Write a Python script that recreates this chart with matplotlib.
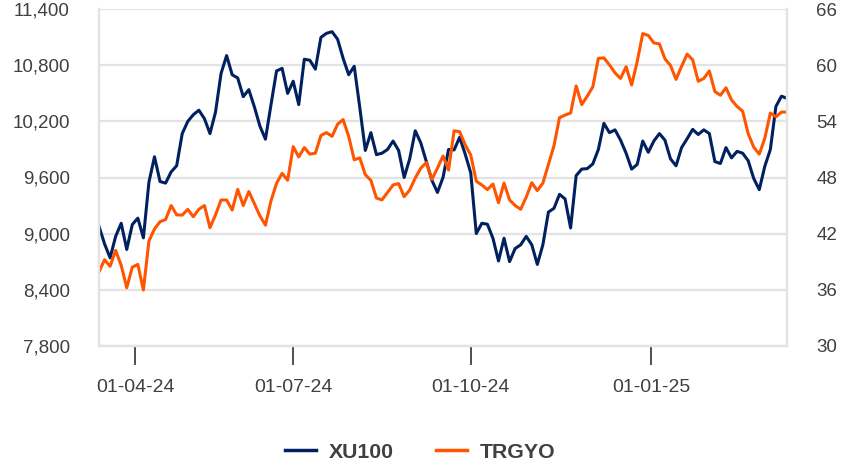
import numpy as np
import pandas as pd
import matplotlib
matplotlib.use('Agg')
import matplotlib.pyplot as plt

plt.rcParams['font.family'] = ['Liberation Sans', 'DejaVu Sans']

# Borsa Istanbul trading calendar (weekdays minus public holidays)
holidays = ['2024-04-10', '2024-04-11', '2024-04-12', '2024-04-23', '2024-05-01',
            '2024-06-17', '2024-06-18', '2024-06-19', '2024-07-15', '2024-08-30',
            '2024-10-29', '2025-01-01']
days = pd.bdate_range('2024-03-13', '2025-03-12', freq='C', holidays=holidays)

# values, every second trading day
xu100 = [9078, 8890, 8740, 8970, 9110, 8830, 9096, 9165, 8954, 9550,
         9822, 9557, 9540, 9660, 9726, 10070, 10200, 10272, 10320, 10230,
         10070, 10300, 10714, 10905, 10700, 10665, 10465, 10540, 10357, 10150,
         10010, 10380, 10740, 10768, 10500, 10630, 10380, 10865, 10855, 10760,
         11100, 11143, 11160, 11080, 10875, 10700, 10790, 10350, 9890, 10080,
         9845, 9860, 9900, 9990, 9890, 9600, 9800, 10100, 9970, 9770,
         9570, 9440, 9600, 9900, 9895, 10030, 9850, 9650, 9000, 9110,
         9100, 8950, 8707, 8950, 8700, 8840, 8880, 8970, 8880, 8670,
         8880, 9230, 9270, 9420, 9370, 9060, 9620, 9690, 9695, 9745,
         9900, 10180, 10080, 10110, 10000, 9860, 9690, 9740, 9990, 9870,
         9990, 10070, 10000, 9800, 9725, 9920, 10015, 10115, 10060, 10110,
         10070, 9770, 9750, 9920, 9810, 9880, 9860, 9780, 9590, 9470,
         9720, 9900, 10360, 10470, 10447]

trgyo = [37.9, 39.2, 38.5, 40.2, 38.6, 36.2, 38.4, 38.7, 35.96, 41.2,
         42.5, 43.27, 43.5, 45.0, 44.0, 43.98, 44.59, 43.8, 44.6, 45.0,
         42.63, 44.0, 45.59, 45.59, 44.52, 46.73, 45.0, 46.5, 45.2, 43.9,
         42.9, 45.5, 47.38, 48.45, 47.7, 51.3, 50.2, 51.2, 50.5, 50.6,
         52.5, 52.8, 52.4, 53.7, 54.2, 52.4, 49.9, 50.1, 48.3, 47.7,
         45.8, 45.6, 46.4, 47.2, 47.35, 45.95, 46.66, 47.95, 49.0, 49.6,
         47.8, 49.0, 50.3, 48.8, 53.0, 52.9, 51.5, 50.4, 47.6, 47.2,
         46.7, 47.3, 45.3, 47.4, 45.6, 45.0, 44.6, 45.9, 47.44, 46.6,
         47.4, 49.4, 51.4, 54.4, 54.68, 54.9, 57.8, 55.8, 56.7, 57.7,
         60.75, 60.8, 60.05, 59.2, 58.6, 59.85, 57.9, 60.4, 63.4, 63.2,
         62.4, 62.3, 60.7, 60.0, 58.5, 59.9, 61.2, 60.6, 58.3, 58.6,
         59.4, 57.2, 56.8, 57.6, 56.3, 55.6, 55.1, 52.7, 51.25, 50.5,
         52.2, 54.9, 54.5, 55.0, 55.0]

tick_dates = ['2024-04-01', '2024-07-01', '2024-10-01', '2025-01-01']
tick_labels = ['01-04-24', '01-07-24', '01-10-24', '01-01-25']

navy = '#002060'
orange = '#FF5500'
grid_c = '#e3e3e3'
text_c = '#404040'

x = np.arange(0, len(days), 2)[:len(xu100)]

fig = plt.figure(figsize=(8.55, 4.70), dpi=100)
ax = fig.add_axes([99 / 855, 1 - 345.7 / 470, (787 - 99) / 855, (345.7 - 9.3) / 470])
ax2 = ax.twinx()

l1, = ax.plot(x, xu100, color=navy, lw=2.2, solid_joinstyle='round', label='XU100')
l2, = ax2.plot(x, trgyo, color=orange, lw=2.2, solid_joinstyle='round', label='TRGYO')

ax.set_xlim(0, len(days) - 1)
ax.set_ylim(7800, 11400)
ax.set_yticks(np.arange(7800, 11401, 600))
ax.set_yticklabels([f'{v:,}' for v in range(7800, 11401, 600)])
ax2.set_ylim(30, 66)
ax2.set_yticks(np.arange(30, 67, 6))

ax.grid(axis='y', color=grid_c, lw=1.6)
ax.set_axisbelow(True)

tick_pos = [days.searchsorted(pd.Timestamp(d)) for d in tick_dates]
ax.set_xticks(tick_pos)
ax.set_xticklabels(tick_labels)

for a in (ax, ax2):
    for s in a.spines.values():
        s.set_color(grid_c)
        s.set_linewidth(1.6)
    a.spines['top'].set_visible(False)

ax.tick_params(axis='y', length=0, pad=21, labelsize=13.5, labelcolor=text_c)
ax2.tick_params(axis='y', length=0, pad=21, labelsize=13.5, labelcolor=text_c)
ax.tick_params(axis='x', direction='out', length=13.5, width=1.3, color='#404040',
               pad=10.5, labelsize=14, labelcolor=text_c)

leg = fig.legend([l1, l2], ['XU100', 'TRGYO'], loc='center',
                 bbox_to_anchor=(420.5 / 855, 1 - 452 / 470),
                 ncol=2, frameon=False, handlelength=1.46, handletextpad=0.6,
                 columnspacing=2.0, prop={'weight': 'bold', 'size': 15.3})
for t in leg.get_texts():
    t.set_color(text_c)
for h in leg.get_lines():
    h.set_linewidth(2.5)

fig.savefig('out.png', dpi=100)
